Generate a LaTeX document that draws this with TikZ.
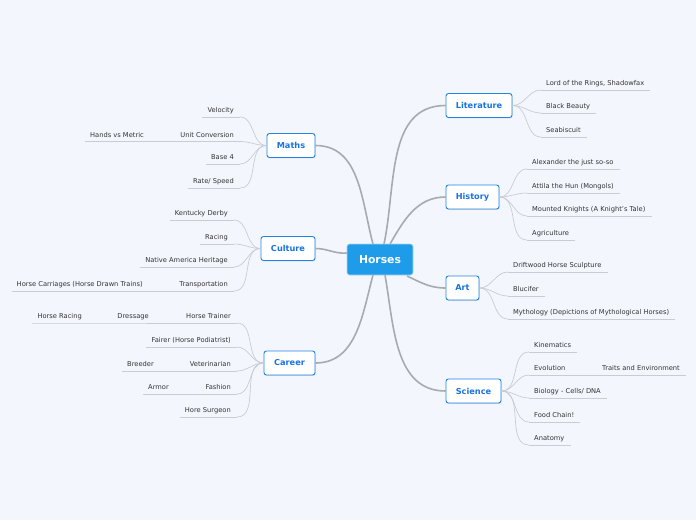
\documentclass[tikz,border=0pt]{standalone}
\usepackage{fontspec}
\setmainfont{DejaVu Sans}
\usetikzlibrary{shadows,calc}
\definecolor{bg}{HTML}{F3F6FD}
\definecolor{rootblue}{HTML}{1E9BE9}
\definecolor{nodeblue}{HTML}{2284E6}
\definecolor{txtblue}{HTML}{1A73E0}
\definecolor{leafline}{HTML}{C9CCD5}
\definecolor{mainline}{HTML}{A8AAB0}
\definecolor{leaftext}{HTML}{333333}
\newcommand\lleaf[5]{%
  \node[leaf, anchor=base east] (#1) at (#3,#4-4.5) {#5};
  \coordinate (#1e) at (#3+6,#4);
  \draw[uline] ($(#1.base west)+(-5,4.5)$) -- (#1e);
  \draw[conn] (#2.west) to[out=180,in=0] (#1e);}
\newcommand\rleaf[5]{%
  \node[leaf, anchor=base west] (#1) at (#3,#4-4.5) {#5};
  \coordinate (#1s) at (#3-5,#4);
  \draw[uline] (#1s) -- ($(#1.base east)+(6,4.5)$);
  \draw[conn] (#2.east) to[out=0,in=180] (#1s);}
\begin{document}
\begin{tikzpicture}[x=1pt,y=-1pt,
  rootbox/.style={fill=rootblue, draw=white!60!rootblue, line width=0.6pt, rounded corners=2.5pt, text=white,
    font=\fontsize{10.8}{12}\selectfont\bfseries, minimum width=66pt, minimum height=31pt, inner sep=0},
  topic/.style={draw=nodeblue, line width=0.9pt, fill=white, rounded corners=2.5pt, text=txtblue,
    font=\fontsize{8.2}{9}\selectfont\bfseries, minimum height=24pt, inner sep=0,
    drop shadow={shadow xshift=0.5pt, shadow yshift=-0.9pt, opacity=0.25}},
  leaf/.style={text=leaftext, font=\fontsize{6.7}{8}\selectfont, inner sep=0},
  uline/.style={draw=leafline, line width=0.7pt},
  conn/.style={draw=leafline, line width=0.7pt},
  trunk/.style={draw=mainline, line width=1.6pt},
]
\fill[bg] (0,0) rectangle (696,520);
\useasboundingbox (0,0) rectangle (696,520);

% topics
\node[topic, minimum width=48pt] (maths) at (291,145.5) {Maths};
\node[topic, minimum width=54pt] (culture) at (288,248.5) {Culture};
\node[topic, minimum width=51pt] (career) at (289.5,363) {Career};
\node[topic, minimum width=66pt] (lit) at (479,105.5) {Literature};
\node[topic, minimum width=53pt] (hist) at (472.5,197) {History};
\node[topic, minimum width=33pt] (art) at (462.5,288) {Art};
\node[topic, minimum width=55pt] (sci) at (473.5,391) {Science};

% trunks
\coordinate (rM) at (373,244);
\coordinate (rL) at (384,244);
\coordinate (rH) at (390,244);
\coordinate (rC) at (347,253);
\coordinate (rA) at (407,276);
\coordinate (rK) at (373,275);
\coordinate (rS) at (385,275);
\draw[trunk] (rM) to[out=105,in=0] (maths.east);
\draw[trunk] (rL) to[out=78,in=180] (lit.west);
\draw[trunk] (rH) to[out=60,in=180] (hist.west);
\draw[trunk] (rC) to[out=185,in=0] (culture.east);
\draw[trunk] (rA) to[out=-25,in=180] (art.west);
\draw[trunk] (rK) to[out=-105,in=0] (career.east);
\draw[trunk] (rS) to[out=-80,in=180] (sci.west);

\node[rootbox] (root) at (380,259.5) {Horses};

% Maths
\lleaf{m1}{maths}{234}{117}{Velocity}
\lleaf{m2}{maths}{234}{141.5}{Unit Conversion}
\lleaf{m3}{maths}{234}{164}{Base 4}
\lleaf{m4}{maths}{234}{188}{Rate/ Speed}
\node[leaf, anchor=base east] (m2b) at (144,137) {Hands vs Metric};
\draw[uline] ($(m2b.base west)+(-5,4.5)$) -- ($(m2.base west)+(-5,4.5)$);

% Culture
\lleaf{c1}{culture}{228}{220}{Kentucky Derby}
\lleaf{c2}{culture}{228}{244}{Racing}
\lleaf{c3}{culture}{228}{267}{Native America Heritage}
\lleaf{c4}{culture}{228}{291}{Transportation}
\node[leaf, anchor=base east] (c4b) at (143,286.5) {Horse Carriages (Horse Drawn Trains)};
\draw[uline] ($(c4b.base west)+(-5,4.5)$) -- ($(c4.base west)+(-5,4.5)$);

% Career
\lleaf{k1}{career}{231}{323}{Horse Trainer}
\lleaf{k2}{career}{231}{347}{Fairer (Horse Podiatrist)}
\lleaf{k3}{career}{231}{371}{Veterinarian}
\lleaf{k4}{career}{231}{394}{Fashion}
\lleaf{k5}{career}{231}{417}{Hore Surgeon}
\node[leaf, anchor=base east] (k1b) at (149,318.5) {Dressage};
\node[leaf, anchor=base east] (k1c) at (82,318) {Horse Racing};
\draw[uline] ($(k1c.base west)+(-5,5)$) -- ($(k1b.base west)+(-5,4.5)$) -- ($(k1.base west)+(-5,4.5)$);
\node[leaf, anchor=base east] (k3b) at (154,366) {Breeder};
\draw[uline] ($(k3b.base west)+(-5,5)$) -- ($(k3.base west)+(-5,4.5)$);
\node[leaf, anchor=base east] (k4b) at (169,389) {Armor};
\draw[uline] ($(k4b.base west)+(-5,5)$) -- ($(k4.base west)+(-5,4.5)$);

% Literature
\rleaf{l1}{lit}{546}{90}{Lord of the Rings, Shadowfax}
\rleaf{l2}{lit}{546}{113}{Black Beauty}
\rleaf{l3}{lit}{546}{137}{Seabiscuit}

% History
\rleaf{h1}{hist}{532}{169}{Alexander the just so-so}
\rleaf{h2}{hist}{532}{193}{Attila the Hun (Mongols)}
\rleaf{h3}{hist}{532}{216}{Mounted Knights (A Knight's Tale)}
\rleaf{h4}{hist}{532}{240}{Agriculture}

% Art
\rleaf{a1}{art}{513}{272}{Driftwood Horse Sculpture}
\rleaf{a2}{art}{513}{296}{Blucifer}
\rleaf{a3}{art}{513}{319}{Mythology (Depictions of Mythological Horses)}

% Science
\rleaf{s1}{sci}{534}{352}{Kinematics}
\rleaf{s2}{sci}{534}{375}{Evolution}
\rleaf{s3}{sci}{534}{398}{Biology - Cells/ DNA}
\rleaf{s4}{sci}{534}{422}{Food Chain!}
\rleaf{s5}{sci}{534}{445}{Anatomy}
\node[leaf, anchor=base west] (s2b) at (602,370.5) {Traits and Environment};
\draw[uline] ($(s2.base east)+(6,4.5)$) -- ($(s2b.base east)+(6,4.5)$);
\end{tikzpicture}
\end{document}
